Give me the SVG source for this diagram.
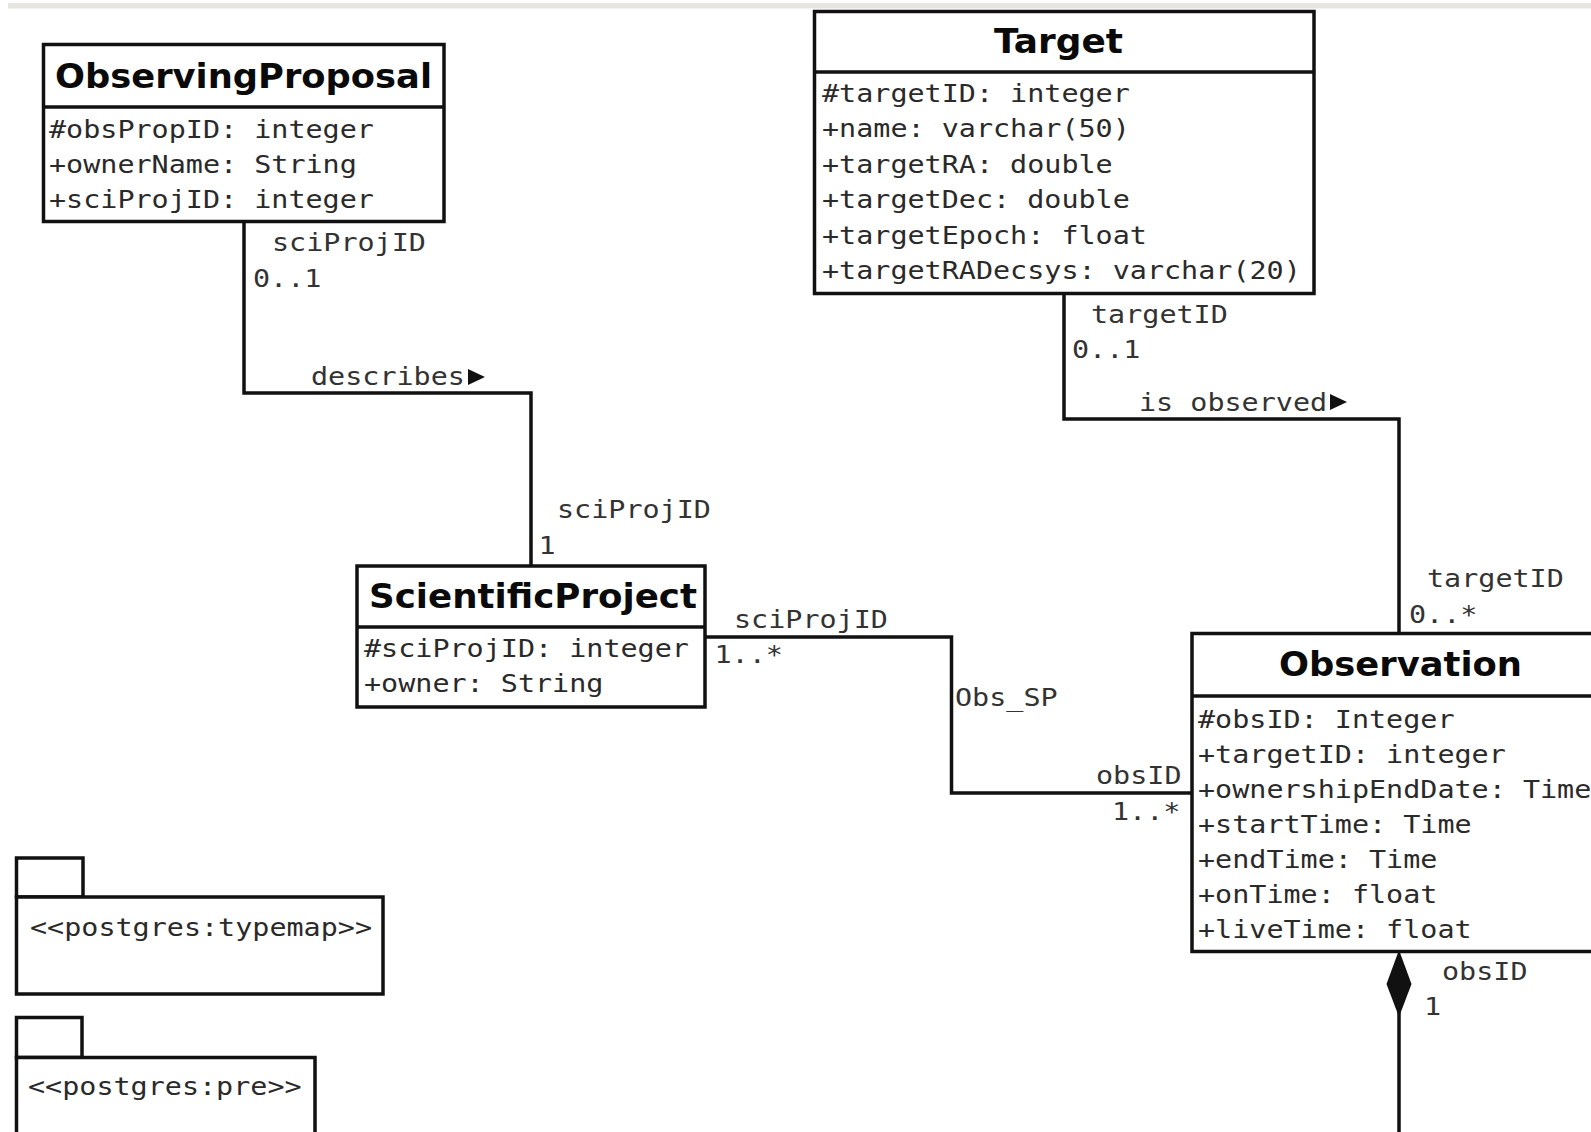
<svg xmlns="http://www.w3.org/2000/svg" width="1591" height="1132" viewBox="0 0 1591 1132">
  <style>
    .box { fill: #ffffff; stroke: #111111; stroke-width: 3.5; }
    .sep { stroke: #111111; stroke-width: 3.5; fill: none; }
    .title { font-family: "DejaVu Sans", "Liberation Sans", sans-serif; font-weight: bold; font-size: 33px; fill: #0a0a0a; }
    .attr { font-family: "DejaVu Sans Mono", "Liberation Mono", monospace; font-size: 24px; fill: #2a2a2a; }
    .lbl { font-family: "DejaVu Sans Mono", "Liberation Mono", monospace; font-size: 24px; fill: #333333; }
    .edge { fill: none; stroke: #111111; stroke-width: 3.5; stroke-linejoin: miter; }
    .solid { fill: #111111; stroke: none; }
  </style>

  <!-- page background and the window strip along the top -->
  <rect x="0" y="0" width="1591" height="1132" fill="#ffffff"/>
  <rect x="8" y="3" width="1583" height="5.5" fill="#e7e5e0"/>

  <!-- associations -->
  <g id="connectors">
    <!-- ObservingProposal - ScientificProject -->
    <polyline class="edge" points="244,222 244,393 531,393 531,566"/>
    <text class="lbl" x="272" y="250.5" textLength="153.9" lengthAdjust="spacingAndGlyphs">sciProjID</text>
    <text class="lbl" x="253" y="287" textLength="68.4" lengthAdjust="spacingAndGlyphs">0..1</text>
    <text class="lbl" x="311" y="385" textLength="153.9" lengthAdjust="spacingAndGlyphs">describes</text>
    <polygon class="solid" points="468,369 485,377 468,385"/>
    <text class="lbl" x="557" y="518" textLength="153.9" lengthAdjust="spacingAndGlyphs">sciProjID</text>
    <text class="lbl" x="538.5" y="554" textLength="17.1" lengthAdjust="spacingAndGlyphs">1</text>

    <!-- Target - Observation -->
    <polyline class="edge" points="1064,293 1064,419 1399,419 1399,633"/>
    <text class="lbl" x="1091" y="322.7" textLength="136.8" lengthAdjust="spacingAndGlyphs">targetID</text>
    <text class="lbl" x="1072" y="358.3" textLength="68.4" lengthAdjust="spacingAndGlyphs">0..1</text>
    <text class="lbl" x="1139" y="410.7" textLength="188.1" lengthAdjust="spacingAndGlyphs">is observed</text>
    <polygon class="solid" points="1330,394 1347,402 1330,410"/>
    <text class="lbl" x="1427" y="586.7" textLength="136.8" lengthAdjust="spacingAndGlyphs">targetID</text>
    <text class="lbl" x="1409" y="623" textLength="68.4" lengthAdjust="spacingAndGlyphs">0..*</text>

    <!-- ScientificProject - Observation (Obs_SP) -->
    <polyline class="edge" points="705,637 951.5,637 951.5,793 1192,793"/>
    <text class="lbl" x="734" y="628" textLength="153.9" lengthAdjust="spacingAndGlyphs">sciProjID</text>
    <text class="lbl" x="714.5" y="663" textLength="68.4" lengthAdjust="spacingAndGlyphs">1..*</text>
    <text class="lbl" x="955" y="705.7" textLength="102.6" lengthAdjust="spacingAndGlyphs">Obs_SP</text>
    <text class="lbl" x="1096" y="784" textLength="85.5" lengthAdjust="spacingAndGlyphs">obsID</text>
    <text class="lbl" x="1112" y="820" textLength="68.4" lengthAdjust="spacingAndGlyphs">1..*</text>

    <!-- composition leaving Observation downwards -->
    <line class="edge" x1="1399" y1="1010" x2="1399" y2="1140"/>
    <polygon class="solid" points="1399,950 1411.5,984 1399,1017 1386.5,984"/>
    <text class="lbl" x="1442" y="980" textLength="85.5" lengthAdjust="spacingAndGlyphs">obsID</text>
    <text class="lbl" x="1424" y="1015" textLength="17.1" lengthAdjust="spacingAndGlyphs">1</text>
  </g>

  <!-- classes -->
  <g id="ObservingProposal">
    <rect class="box" x="43.5" y="44.5" width="400.5" height="177"/>
    <line class="sep" x1="43.5" y1="107" x2="444" y2="107"/>
    <text class="title" x="55" y="88" textLength="377" lengthAdjust="spacingAndGlyphs">ObservingProposal</text>
    <text class="attr" x="49" y="138.3" textLength="324.9" lengthAdjust="spacingAndGlyphs">#obsPropID: integer</text>
    <text class="attr" x="49" y="173.3" textLength="307.8" lengthAdjust="spacingAndGlyphs">+ownerName: String</text>
    <text class="attr" x="49" y="208.3" textLength="324.9" lengthAdjust="spacingAndGlyphs">+sciProjID: integer</text>
  </g>

  <g id="Target">
    <rect class="box" x="814.5" y="11.5" width="499.5" height="282"/>
    <line class="sep" x1="814.5" y1="72" x2="1314" y2="72"/>
    <text class="title" x="994" y="52.7" textLength="129" lengthAdjust="spacingAndGlyphs">Target</text>
    <text class="attr" x="822" y="101.7" textLength="307.8" lengthAdjust="spacingAndGlyphs">#targetID: integer</text>
    <text class="attr" x="822" y="137" textLength="307.8" lengthAdjust="spacingAndGlyphs">+name: varchar(50)</text>
    <text class="attr" x="822" y="172.7" textLength="290.7" lengthAdjust="spacingAndGlyphs">+targetRA: double</text>
    <text class="attr" x="822" y="208.3" textLength="307.8" lengthAdjust="spacingAndGlyphs">+targetDec: double</text>
    <text class="attr" x="822" y="244" textLength="324.9" lengthAdjust="spacingAndGlyphs">+targetEpoch: float</text>
    <text class="attr" x="822" y="279.3" textLength="478.8" lengthAdjust="spacingAndGlyphs">+targetRADecsys: varchar(20)</text>
  </g>

  <g id="ScientificProject">
    <rect class="box" x="357" y="566" width="348" height="141"/>
    <line class="sep" x1="357" y1="627" x2="705" y2="627"/>
    <text class="title" x="369" y="607.7" textLength="328" lengthAdjust="spacingAndGlyphs">ScientificProject</text>
    <text class="attr" x="364" y="656.7" textLength="324.9" lengthAdjust="spacingAndGlyphs">#sciProjID: integer</text>
    <text class="attr" x="364" y="691.7" textLength="239.4" lengthAdjust="spacingAndGlyphs">+owner: String</text>
  </g>

  <g id="Observation">
    <rect class="box" x="1192" y="633.5" width="440" height="318"/>
    <line class="sep" x1="1192" y1="696" x2="1632" y2="696"/>
    <text class="title" x="1279" y="676" textLength="243" lengthAdjust="spacingAndGlyphs">Observation</text>
    <text class="attr" x="1198" y="728.3" textLength="256.5" lengthAdjust="spacingAndGlyphs">#obsID: Integer</text>
    <text class="attr" x="1198" y="763.3" textLength="307.8" lengthAdjust="spacingAndGlyphs">+targetID: integer</text>
    <text class="attr" x="1198" y="798.3" textLength="393.3" lengthAdjust="spacingAndGlyphs">+ownershipEndDate: Time</text>
    <text class="attr" x="1198" y="833.3" textLength="273.6" lengthAdjust="spacingAndGlyphs">+startTime: Time</text>
    <text class="attr" x="1198" y="868.3" textLength="239.4" lengthAdjust="spacingAndGlyphs">+endTime: Time</text>
    <text class="attr" x="1198" y="903.3" textLength="239.4" lengthAdjust="spacingAndGlyphs">+onTime: float</text>
    <text class="attr" x="1198" y="938.3" textLength="273.6" lengthAdjust="spacingAndGlyphs">+liveTime: float</text>
  </g>

  <!-- packages -->
  <g id="pkg-typemap">
    <rect class="box" x="16.5" y="858" width="66.5" height="39"/>
    <rect class="box" x="16.5" y="897" width="366.5" height="97"/>
    <text class="attr" x="30" y="936" textLength="342" lengthAdjust="spacingAndGlyphs">&lt;&lt;postgres:typemap&gt;&gt;</text>
  </g>

  <g id="pkg-pre">
    <rect class="box" x="16.5" y="1017.5" width="65.5" height="40"/>
    <rect class="box" x="16.5" y="1057.5" width="298.5" height="90"/>
    <text class="attr" x="28" y="1095" textLength="273.6" lengthAdjust="spacingAndGlyphs">&lt;&lt;postgres:pre&gt;&gt;</text>
  </g>
</svg>
